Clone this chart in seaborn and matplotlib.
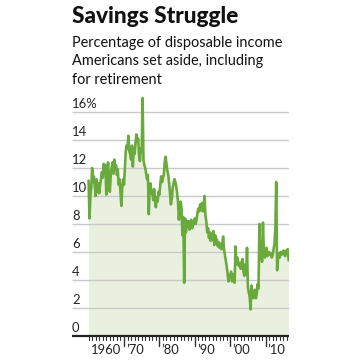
import numpy as np
import pandas as pd
import matplotlib
matplotlib.use("Agg")
import matplotlib.pyplot as plt
import matplotlib.transforms as mtransforms
import seaborn as sns

# Personal saving rate, % of disposable income, quarterly readings (start 1960)
sr_1960s = [11.1, 8.4, 10.0, 10.6, 12.0, 11.0, 11.4, 10.7, 10.0, 11.2, 10.3, 10.9,
            10.2, 10.8, 11.2, 11.7, 11.3, 12.3, 11.6, 12.2, 10.1, 11.6, 12.4, 11.2,
            10.3, 11.5, 12.0, 12.4, 11.6, 12.6, 11.9, 12.2, 11.5, 11.9, 10.8, 11.2,
            10.2, 9.3, 10.6, 11.2]
sr_1970s = [10.8, 12.0, 13.2, 13.6, 13.4, 14.3, 13.2, 13.0, 12.6, 13.6, 12.1, 13.4,
            13.0, 13.8, 14.4, 13.9, 14.1, 12.9, 12.5, 13.4, 13.2, 17.0, 12.6, 12.2,
            12.0, 11.6, 11.2, 11.5, 8.7, 10.5, 10.9, 10.2, 10.3, 9.7, 10.5, 9.8,
            9.2, 9.9, 9.6, 10.3]
sr_1980s = [10.1, 10.8, 11.4, 11.0, 11.3, 11.5, 12.4, 12.8, 12.3, 11.8, 11.5, 10.9,
            10.2, 9.4, 9.8, 10.6, 10.9, 11.2, 11.0, 10.7, 10.2, 9.6, 8.3, 9.2,
            9.6, 9.1, 7.2, 8.5, 3.8, 8.4, 7.4, 8.2, 7.8, 8.2, 7.6, 8.0,
            8.3, 7.7, 7.9, 8.1]
sr_1990s = [8.4, 8.0, 8.3, 8.8, 9.1, 8.9, 9.4, 9.0, 9.5, 8.9, 9.2, 10.0,
            8.6, 8.2, 7.4, 7.7, 7.0, 7.4, 6.8, 7.3, 6.9, 7.5, 6.5, 7.2,
            6.6, 6.9, 6.4, 6.7, 6.3, 6.6, 6.2, 6.5, 7.1, 6.2, 5.8, 5.4,
            5.0, 4.5, 3.9, 4.3]
sr_2000s = [4.2, 4.6, 3.9, 4.4, 4.2, 3.8, 6.4, 5.1, 5.6, 5.3, 5.0, 5.2,
            4.8, 5.3, 5.5, 4.6, 4.3, 5.1, 4.4, 6.3, 3.5, 3.1, 2.8, 1.9,
            3.6, 3.2, 2.7, 3.1, 3.3, 2.7, 3.0, 3.7, 3.4, 8.0, 5.6, 5.9,
            5.3, 8.1, 6.0, 5.6]
sr_2010s = [5.9, 6.3, 5.7, 5.9, 6.0, 5.8, 5.9, 5.6, 5.8, 6.2, 6.6, 7.6,
            11.0, 4.7, 5.5, 5.9, 5.6, 6.0, 5.8, 5.9, 6.1, 5.9, 5.7, 6.1,
            5.9, 6.2, 5.4]

start_year = 1960
rate = sr_1960s + sr_1970s + sr_1980s + sr_1990s + sr_2000s + sr_2010s
df = pd.DataFrame({"year": start_year + np.arange(len(rate)) / 4.0, "rate": rate})

y_ticks = [0, 2, 4, 6, 8, 10, 12, 14, 16]
y_labels = ["0", "2", "4", "6", "8", "10", "12", "14", "16%"]
x_major = [1960, 1970, 1980, 1990, 2000, 2010]
x_labels = ["1960", "\u201970", "\u201980", "\u201990", "\u201900", "\u201910"]

title = "Savings Struggle"
subtitle = ["Percentage of disposable income",
            "Americans set aside, including",
            "for retirement"]

sns.set_theme(style="white")
plt.rcParams["font.family"] = ["Lato", "DejaVu Sans"]

W, H = 360, 362
fig = plt.figure(figsize=(W / 100, H / 100), dpi=100)
ax = fig.add_axes([72 / W, 1 - 336 / H, 217 / W, 245 / H])
for s in ax.spines.values():
    s.set_visible(False)

line_color = "#6aaa3c"
fill_color = "#eaf0df"
x0, x1 = 1955.31, 2016.61

ax.fill_between(df["year"], 0, df["rate"], color=fill_color, linewidth=0, zorder=0.5)
sns.lineplot(data=df, x="year", y="rate", ax=ax, color=line_color, linewidth=1.9,
             zorder=3, legend=False)

ax.set_xlim(x0, x1)
ax.set_ylim(0, 17.5)
ax.set_autoscale_on(False)

ax.hlines(y_ticks[1:], x0, x1, colors="#c9c9c9", linewidth=1.0, zorder=1,
          capstyle="butt")
ax.hlines([0], x0, x1, colors="#222222", linewidth=1.6, zorder=4, clip_on=False)

ax.set_xlabel("")
ax.set_ylabel("")
ax.set_yticks([])
ax.set_xticks([])

# year ticks
trans_x = mtransforms.blended_transform_factory(ax.transData, ax.transAxes)
for yr in range(1960, 2017):
    major = yr in x_major[1:]
    ln = 10 if major else 3.5
    ax.plot([yr, yr], [0, -ln / 245], transform=trans_x, color="#333333",
            linewidth=1.0 if major else 0.8, clip_on=False, zorder=4)
for yr, lab in zip(x_major, x_labels):
    t = mtransforms.offset_copy(trans_x, fig=fig, x=2.2, y=-14, units="dots")
    ax.text(yr, 0, lab, transform=t, ha="left", va="center", fontsize=9.4,
            color="#222222")

# value labels above gridlines
trans_y = mtransforms.blended_transform_factory(ax.transAxes, ax.transData)
for v, lab in zip(y_ticks, y_labels):
    t = mtransforms.offset_copy(trans_y, fig=fig, x=0, y=3.5, units="dots")
    ax.text(0, v, lab, transform=t, ha="left", va="baseline", fontsize=9.4,
            color="#222222")

fig.text(72 / W, 1 - 23 / H, title, fontsize=16.3, fontweight="black",
         ha="left", va="baseline", color="#111111")
for i, s in enumerate(subtitle):
    fig.text(72 / W, 1 - (47.5 + 18 * i) / H, s, fontsize=10.45,
             ha="left", va="baseline", color="#111111")

fig.savefig("out.png", dpi=100)
